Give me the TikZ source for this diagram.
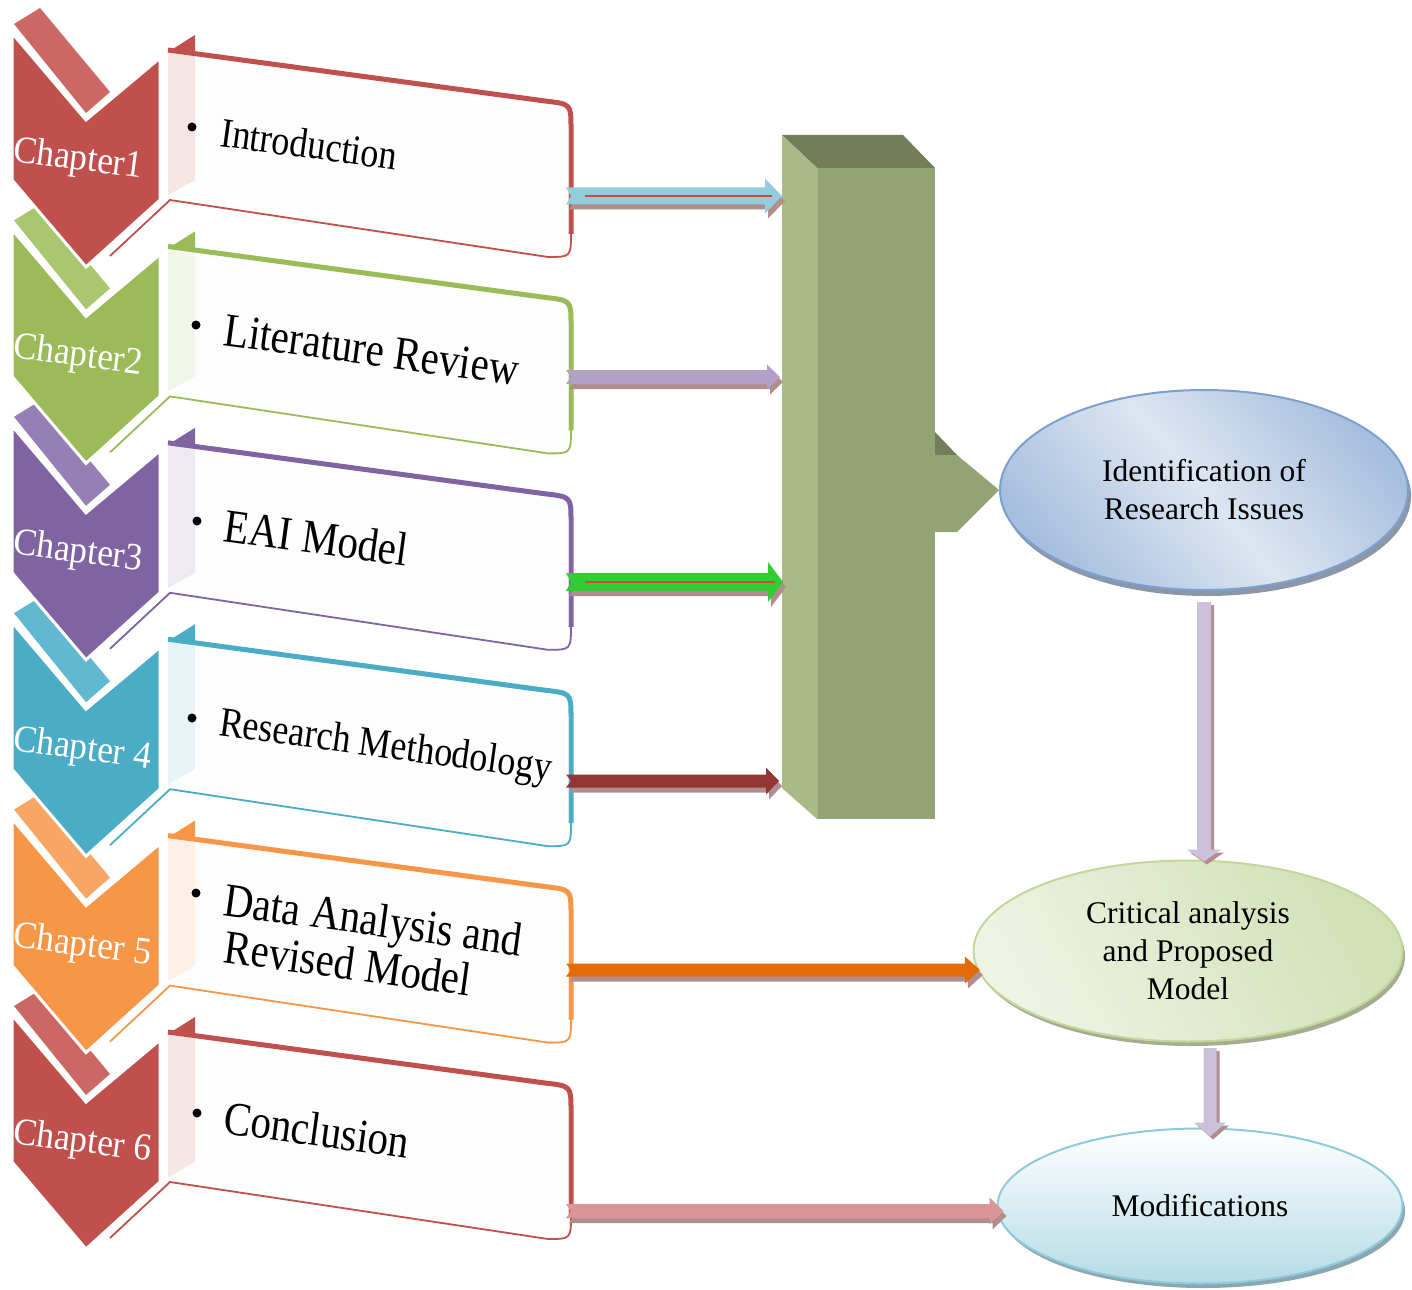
\documentclass[tikz,border=0pt]{standalone}
\usepackage{fontspec}
\setmainfont{Liberation Serif}
\usetikzlibrary{calc,shapes.geometric}
\definecolor{redm}{HTML}{C0504D}
\definecolor{redb}{HTML}{CB6866}
\definecolor{reds}{HTML}{F6E6E5}
\definecolor{grnm}{HTML}{9BBB59}
\definecolor{grnb}{HTML}{A9C76E}
\definecolor{grns}{HTML}{F1F6E8}
\definecolor{purm}{HTML}{8064A2}
\definecolor{purb}{HTML}{9580B5}
\definecolor{purs}{HTML}{EEEAF3}
\definecolor{tlm}{HTML}{4BACC6}
\definecolor{tlb}{HTML}{62B8D0}
\definecolor{tls}{HTML}{E6F3F7}
\definecolor{orm}{HTML}{F79646}
\definecolor{orb}{HTML}{F8A665}
\definecolor{ors}{HTML}{FEF0E4}
\definecolor{boxfill}{HTML}{FDFDFD}
\definecolor{blkfront}{HTML}{93A373}
\definecolor{blkleft}{HTML}{A9BA87}
\definecolor{blktop}{HTML}{747D5A}
\definecolor{arrshadow}{HTML}{B08E8E}
\definecolor{acyan}{HTML}{92CDDC}
\definecolor{alav}{HTML}{B2A1C7}
\definecolor{agreen}{HTML}{33CC33}
\definecolor{adred}{HTML}{943634}
\definecolor{aorange}{HTML}{E36C09}
\definecolor{apink}{HTML}{D99694}
\definecolor{avert}{HTML}{CCC0DA}
\definecolor{redline}{HTML}{D9443F}
\definecolor{eonelight}{HTML}{DCE6F2}
\definecolor{eonedark}{HTML}{A7BFDE}
\definecolor{eoneborder}{HTML}{7EA0CF}
\definecolor{eoneshadow}{HTML}{8B97A9}
\definecolor{etwolight}{HTML}{EEF3E3}
\definecolor{etwodark}{HTML}{D2E0B6}
\definecolor{etwoborder}{HTML}{C3D69B}
\definecolor{etwoshadow}{HTML}{A6AC90}
\definecolor{ethreebot}{HTML}{B4DBE6}
\definecolor{ethreeborder}{HTML}{8FCADB}
\definecolor{ethreeshadow}{HTML}{8CA6B1}
\newcommand\rowshape[4]{%
\begin{scope}[shift={(0,#1)}]
\fill[#3] (14,24) -- (40,8) -- (110,92) -- (86,113) -- cycle;
\filldraw[fill=#2,draw=white,line width=3pt,line join=miter] (12,33) -- (86,120) -- (160,58) -- (160,200) -- (86,267) -- (12,180) -- cycle;
\fill[boxfill] (168,50) -- (545,101) .. controls (571,104) .. (571,128) -- (571,233) .. controls (571,257) .. (548,257) -- (170,200) -- cycle;
\fill[#4] (168,52) -- (195,52) -- (195,180) -- (168,195) -- cycle;
\fill[#2] (168,52) -- (195,35) -- (195,52) -- cycle;
\draw[#2,line width=5pt,line join=round] (168,50) -- (545,101) .. controls (571,104) .. (571,128) -- (571,234);
\draw[#2,line width=1.8pt] (571,232) .. controls (571,257) .. (548,257) -- (170,200) -- (110,256);
\draw[white,opacity=0.35,line width=1.2pt] (568,128) -- (568,232);
\end{scope}}
% horizontal block arrow: from, to, colour, shaft half, head half, head length, dx, dy
\newcommand\harrow[8]{\fill[#3] ($(#1)+(#7,#8-#4)$) -- ($(#2)+(#7-#6,#8-#4)$) -- ($(#2)+(#7-#6,#8-#5)$) -- ($(#2)+(#7,#8)$) -- ($(#2)+(#7-#6,#8+#5)$) -- ($(#2)+(#7-#6,#8+#4)$) -- ($(#1)+(#7,#8+#4)$) -- ($(#1)+(#7+5,#8)$) -- cycle;}
\newcommand\hblock[6]{\harrow{#1}{#2}{arrshadow}{#4}{#5}{#6}{3}{5}\harrow{#1}{#2}{#3}{#4}{#5}{#6}{0}{0}}
\newcommand\varrow[8]{\fill[#3] ($(#1)+(#7-#4,#8)$) -- ($(#2)+(#7-#4,#8-#6)$) -- ($(#2)+(#7-#5,#8-#6)$) -- ($(#2)+(#7,#8)$) -- ($(#2)+(#7+#5,#8-#6)$) -- ($(#2)+(#7+#4,#8-#6)$) -- ($(#1)+(#7+#4,#8)$) -- cycle;}
\newcommand\vblock[6]{\varrow{#1}{#2}{arrshadow}{#4}{#5}{#6}{3}{3}\varrow{#1}{#2}{#3}{#4}{#5}{#6}{0}{0}}
\tikzset{
  chtext/.style={text=white,inner sep=0pt,anchor=base west,rotate=-7.5,yscale=1.08,font=\fontsize{35.5}{43}\selectfont},
  ctext/.style={text=black,inner sep=0pt,anchor=base west,rotate=-7.8,yscale=1.16,font=\fontsize{41}{48}\selectfont},
  csmall/.style={ctext,font=\fontsize{36}{43}\selectfont},
  bulletdot/.style={circle,fill=black,inner sep=0pt,minimum size=9pt},
  etext/.style={ellipse,inner sep=0pt,align=center,line width=2pt,font=\fontsize{31.5}{38}\selectfont}
}
\begin{document}
\begin{tikzpicture}[x=1pt,y=-1pt]
\useasboundingbox[fill=white] (0,0) rectangle (1412,1289);
% rows, drawn bottom-up
\rowshape{982}{redm}{redb}{reds}
\rowshape{785.6}{orm}{orb}{ors}
\rowshape{589.2}{tlm}{tlb}{tls}
\rowshape{392.8}{purm}{purb}{purs}
\rowshape{196.4}{grnm}{grnb}{grns}
\rowshape{0}{redm}{redb}{reds}
% chapter labels
\node[chtext] (ch1) at (12,161) {Chapter1};
\node[chtext] (ch2) at (12,357.4) {Chapter2};
\node[chtext] (ch3) at (12,553.8) {Chapter3};
\node[chtext] (ch4) at (12,750.2) {Chapter 4};
\node[chtext] (ch5) at (12,946.6) {Chapter 5};
\node[chtext] (ch6) at (12,1143) {Chapter 6};
% bullets
\node[bulletdot] (bu1) at (192,127) {};
\node[bulletdot] (bu2) at (196,325) {};
\node[bulletdot] (bu3) at (197,521) {};
\node[bulletdot] (bu4) at (192,718) {};
\node[bulletdot] (bu5) at (196,893) {};
\node[bulletdot] (bu6) at (197,1113) {};
% contents
\node[csmall] (t1) at (219,146) {Introduction};
\node[ctext] (t2) at (222,345) {Literature Review};
\node[ctext] (t3) at (222,541) {EAI Model};
\node[csmall] (t4) at (218,735) {Research Methodology};
\node[ctext] (t5a) at (222,915) {Data Analysis and};
\node[ctext] (t5b) at (222,962) {Revised Model};
\node[ctext] (t6) at (222,1133) {Conclusion};
% green block
\fill[blktop] (782,135) -- (903,135) -- (935,168) -- (817,168) -- cycle;
\fill[blkleft] (782,135) -- (817,168) -- (817,819) -- (782,788) -- cycle;
\fill[blkfront] (817,168) -- (935,168) -- (935,819) -- (817,819) -- cycle;
\draw[blkleft!70!blkfront,line width=1pt] (817,168) -- (817,819);
% ellipses
\fill[eoneshadow] (1207,496) ellipse [x radius=204,y radius=100];
\node[etext,minimum width=408pt,minimum height=200pt,draw=eoneborder,left color=eonedark,right color=eonedark,middle color=eonelight,shading angle=-50] (e1) at (1204,490) {Identification of\\Research Issues};
\fill[etwoshadow] (1191,956) ellipse [x radius=214,y radius=90];
\node[etext,minimum width=429pt,minimum height=181pt,draw=etwoborder,left color=etwodark,right color=etwolight,shading angle=-60] (e2) at (1188,951) {Critical analysis\\and Proposed\\Model};
\fill[ethreeshadow] (1203,1211) ellipse [x radius=202,y radius=77];
\node[etext,minimum width=405pt,minimum height=155pt,draw=ethreeborder,top color=white,bottom color=ethreebot] (e3) at (1200,1206) {Modifications};
% block pointer into e1
\fill[blktop] (935,432) -- (957,455) -- (935,455) -- cycle;
\fill[blkfront] (935,455) -- (957,455) -- (e1.west) -- (957,532) -- (935,532) -- cycle;
% connector end points
\coordinate (o1) at (566,196);
\coordinate (o2) at (566,377);
\coordinate (o3) at (566,582);
\coordinate (o4) at (566,781);
\coordinate (o5) at (566,970);
\coordinate (o6) at (566,1211);
\coordinate (bk1) at (782,196);
\coordinate (bk2) at (780,377);
\coordinate (bk3) at (783,582);
\coordinate (bk4) at (779,781);
\coordinate (i5) at ($(o5 -| e2.185)+(3,0)$);
\coordinate (i6) at ($(o6 -| e3.west)+(7,0)$);
\coordinate (v1s) at ([yshift=-11pt]e1.south);
\coordinate (v1e) at ($(v1s |- e2.north)+(0,2)$);
\coordinate (v2s) at (1210,1048);
\coordinate (v2e) at ($(v2s |- e3.north)+(0,9)$);
% connectors
\hblock{o1}{bk1}{acyan}{8.5}{17.5}{17}
\draw[redline,line width=1.5pt] ($(o1)+(19,0)$) -- ($(bk1)+(-10,0)$);
\hblock{o2}{bk2}{alav}{7}{12.5}{13}
\hblock{o3}{bk3}{agreen}{9}{20}{15}
\draw[redline,line width=2.5pt] ($(o3)+(19,0)$) -- ($(bk3)+(-8,0)$);
\hblock{o4}{bk4}{adred}{6.5}{13.5}{13}
\hblock{o5}{i5}{aorange}{6.5}{13.5}{15}
\hblock{o6}{i6}{apink}{7}{13.5}{14}
\vblock{v1s}{v1e}{avert}{7}{17}{12}
\vblock{v2s}{v2e}{avert}{6.5}{16}{14}
\end{tikzpicture}
\end{document}
